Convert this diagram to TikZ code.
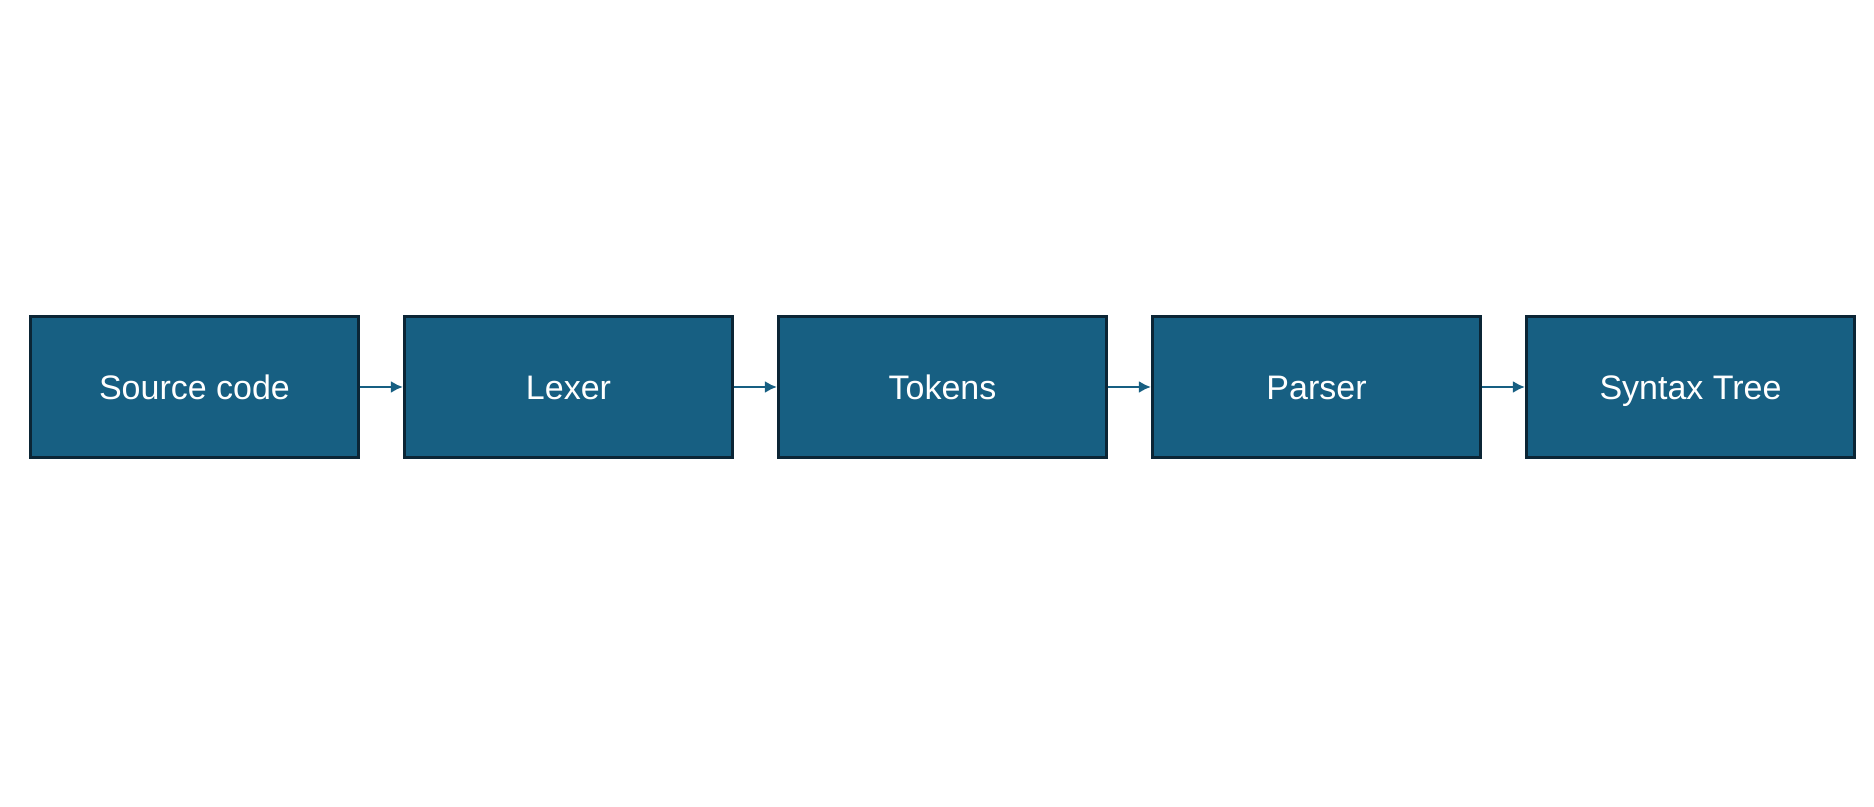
\documentclass[tikz,border=0pt]{standalone}
\usepackage{fontspec}
\setmainfont{Liberation Sans}
\usetikzlibrary{arrows.meta,positioning}
\definecolor{boxblue}{HTML}{175F82}
\definecolor{boxedge}{HTML}{0B2535}

\begin{document}
\begin{tikzpicture}[-{Latex[length=6pt,width=6pt]},node distance=187pt,auto]
\tikzstyle{stage} = [rectangle, draw=boxedge, line width=1.4pt, fill=boxblue, text=white, font=\fontsize{17}{20}\selectfont, text height=12.4pt, text depth=0.2pt, minimum width=164.2pt, minimum height=70.6pt, inner sep=0pt]
\tikzstyle{link} = [draw=boxblue, line width=1.1pt]
\useasboundingbox (0,0) rectangle (937pt,403.5pt);
\node[stage] (SRC) at (97.25pt,210pt) {Source code};
\node[stage][right of=SRC](LEX){Lexer};
\node[stage][right of=LEX](TOK){Tokens};
\node[stage][right of=TOK](PAR){Parser};
\node[stage][right of=PAR](AST){Syntax Tree};
\path (SRC) edge[link] (LEX)
      (LEX) edge[link] (TOK)
      (TOK) edge[link] (PAR)
      (PAR) edge[link] (AST);
\end{tikzpicture}
\end{document}
